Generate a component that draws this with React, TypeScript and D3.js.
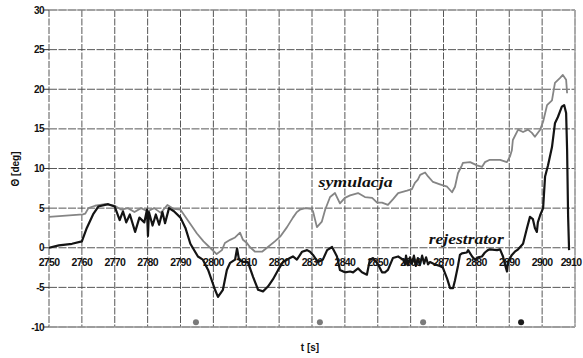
import React from "react";
import * as d3 from "d3";

const xTicks = [2750, 2760, 2770, 2780, 2790, 2800, 2810, 2820, 2830, 2840, 2850, 2860, 2870, 2880, 2890, 2900, 2910];
const yTicks = [-10, -5, 0, 5, 10, 15, 20, 25, 30];

// symulacja (simulation) : [t, theta]
const simT = [2750, 2760.3, 2761, 2762, 2764, 2767, 2770, 2772, 2774, 2776, 2778, 2780, 2782, 2784, 2786, 2788, 2790, 2791, 2793, 2795, 2797, 2799, 2801, 2802.6, 2803.5, 2805.1, 2806.6, 2808.1, 2809, 2810.2, 2811.1, 2812.7, 2814.8, 2816.6, 2818.7, 2820.3, 2822.4, 2824.2, 2825.4, 2826.3, 2828, 2829.8, 2830.3, 2831.5, 2833, 2834, 2835.5, 2837, 2838.5, 2840, 2841.6, 2844, 2846.1, 2848.3, 2849.8, 2851.3, 2853.1, 2854.6, 2856.2, 2858.9, 2860.4, 2861.3, 2862.2, 2862.9, 2864.4, 2865.3, 2866.8, 2868.9, 2871.1, 2872.6, 2873.5, 2874.4, 2875.6, 2875.9, 2878.1, 2880.2, 2881.7, 2882.6, 2884.1, 2887.2, 2889.3, 2890.2, 2890.8, 2891.1, 2892.7, 2894.2, 2895.7, 2896.9, 2897.8, 2899.4, 2900.3, 2901.5, 2903.0, 2903.9, 2905.4, 2906.3, 2907.3, 2907.6];
const simV = [3.9, 4.2, 4.3, 5.0, 5.3, 5.5, 5.3, 4.8, 5.0, 4.5, 5.0, 4.6, 5.0, 4.4, 5.4, 4.9, 4.8, 4.2, 3.0, 1.8, 0.8, 0.0, -0.8, -0.3, 0.6, 1.0, 1.3, 1.9, 1.0, 0.6, 0.1, -0.5, -0.5, 0.1, 0.8, 1.4, 2.6, 3.8, 4.5, 4.8, 5.0, 4.9, 4.6, 2.6, 3.3, 4.8, 6.4, 6.9, 5.6, 6.3, 6.6, 6.9, 6.4, 6.3, 5.7, 5.7, 5.4, 6.1, 6.9, 7.2, 7.4, 8.2, 8.6, 9.2, 9.5, 9.0, 8.3, 8.0, 7.7, 7.0, 7.7, 9.4, 10.4, 10.7, 10.8, 10.4, 10.2, 10.8, 11.1, 11.1, 10.8, 11.5, 12.3, 13.6, 14.9, 14.6, 14.9, 14.5, 14.0, 14.9, 15.9, 18.0, 18.6, 20.8, 21.4, 21.8, 21.2, 19.5];

// rejestrator (recorder) : [t, theta]
const recT = [2750, 2753, 2757, 2760, 2761.5, 2763.4, 2765, 2768, 2770, 2771.5, 2772.5, 2773.5, 2774.6, 2776.2, 2777.5, 2779, 2779.8, 2780.1, 2780.4, 2781.5, 2782.5, 2783.5, 2784.5, 2785.3, 2786.5, 2788, 2790, 2791.5, 2793, 2795.3, 2796.8, 2798.4, 2800.5, 2801.4, 2802.9, 2804.1, 2805.1, 2806.6, 2807.2, 2807.8, 2809, 2810.5, 2812.1, 2813.6, 2815.1, 2816.6, 2818.1, 2819.7, 2821.2, 2823.3, 2824.2, 2825.4, 2827.0, 2828.5, 2829.4, 2830.3, 2831.8, 2833.3, 2834.6, 2836.1, 2837.6, 2838.5, 2840.0, 2841.6, 2842.5, 2844.0, 2845.2, 2846.7, 2847.6, 2848.6, 2850.1, 2851.3, 2852.2, 2853.1, 2854.6, 2856.2, 2857.7, 2858.3, 2858.6, 2859.2, 2859.8, 2860.4, 2861.0, 2861.6, 2862.2, 2862.8, 2863.5, 2864.1, 2864.7, 2865.3, 2865.9, 2867.4, 2868.9, 2869.8, 2871.1, 2872.0, 2872.9, 2873.5, 2874.4, 2875.0, 2875.6, 2877.1, 2877.5, 2878.7, 2879.6, 2880.5, 2881.7, 2882.6, 2883.5, 2884.1, 2886.3, 2887.2, 2888.1, 2888.7, 2889.3, 2889.6, 2890.8, 2891.7, 2892.7, 2894.2, 2895.4, 2896.3, 2897.2, 2897.8, 2898.4, 2898.7, 2899.4, 2900.3, 2900.9, 2901.8, 2903.0, 2903.9, 2904.8, 2906.0, 2906.7, 2907.3, 2907.6, 2907.9, 2908.2];
const recV = [0.0, 0.3, 0.5, 0.8, 2.5, 4.2, 5.2, 5.5, 5.2, 3.5, 4.6, 3.2, 4.2, 2.0, 3.8, 3.2, 4.8, 1.5, 4.5, 2.8, 4.2, 2.9, 4.5, 3.1, 5.0, 4.6, 3.8, 2.5, 0.5, -1.1, -1.5, -2.8, -5.3, -6.2, -5.3, -2.8, -1.9, -1.5, -0.1, -1.5, -1.8, -1.8, -3.7, -5.3, -5.5, -4.9, -4.0, -2.8, -1.8, -1.3, -1.1, -1.5, -0.5, -0.3, -0.5, -0.9, -1.8, -1.5, -0.3, 0.1, -1.1, -2.8, -3.1, -3.0, -3.1, -2.6, -3.1, -3.4, -1.5, -1.3, -2.1, -3.1, -3.1, -2.8, -1.3, -1.1, -1.5, -2.1, -1.0, -2.2, -1.2, -2.0, -1.0, -2.3, -1.3, -2.2, -1.0, -2.0, -1.2, -2.1, -1.8, -2.1, -2.3, -2.5, -3.9, -5.1, -5.1, -4.1, -2.3, -0.9, -0.7, -0.6, -0.3, -1.1, -1.5, -1.2, -1.1, -0.6, -0.3, -0.2, -0.3, -0.2, -1.1, -2.1, -3.0, -1.8, -0.9, -0.5, -0.2, 0.5, 2.5, 3.9, 3.6, 2.5, 2.0, 3.2, 4.1, 5.0, 9.0, 10.4, 12.7, 15.7, 16.5, 17.8, 18.0, 17.0, 12.3, 4.0, -0.3];

// event markers at the bottom
const markT = [2794.7, 2832.4, 2863.8, 2893.6];
const markV = [-9.4, -9.4, -9.4, -9.4];
const markC = ["#7a7a7a", "#7a7a7a", "#7a7a7a", "#1a1a1a"];

export default function App() {
  const W = 583, H = 358;
  const x = d3.scaleLinear().domain([2750, 2910]).range([49, 575]);
  const y = d3.scaleLinear().domain([-10, 30]).range([327, 10]);
  const mk = (ts: number[], vs: number[]) =>
    d3.line<[number, number]>().x(d => x(d[0])).y(d => y(d[1]))(ts.map((t, i) => [t, vs[i]] as [number, number])) || "";
  const simPath = mk(simT, simV);
  const recPath = mk(recT, recV);
  const font = "'Liberation Sans', Arial, sans-serif";
  const serif = "'Liberation Serif', 'Times New Roman', serif";
  const lastTick = xTicks[xTicks.length - 1];
  return (
    <svg width={W} height={H} style={{ position: "absolute", left: 0, top: 0, background: "#fff" }}>
      <rect x={0} y={0} width={W} height={H} fill="#fff" />
      {/* grid */}
      {xTicks.map(t => (
        <line key={"vx" + t} x1={x(t)} x2={x(t)} y1={y(30)} y2={y(-10)} stroke="#444" strokeWidth={0.9} strokeDasharray="7,1.5" />
      ))}
      {yTicks.map(v => (
        <line key={"hy" + v} x1={x(2750)} x2={x(2910)} y1={y(v)} y2={y(v)} stroke="#444" strokeWidth={0.9} strokeDasharray="8,1.5" />
      ))}
      <line x1={x(2750)} x2={x(2910)} y1={y(30)} y2={y(30)} stroke="#999" strokeWidth={1} />
      <line x1={x(2750)} x2={x(2910)} y1={y(-10)} y2={y(-10)} stroke="#999" strokeWidth={1.5} />
      <line x1={x(2910)} x2={x(2910)} y1={y(30)} y2={y(-10)} stroke="#aaa" strokeWidth={1.5} />
      {/* y ticks */}
      {yTicks.map(v => (
        <g key={"yt" + v}>
          <line x1={x(2750) - 5} x2={x(2750)} y1={y(v)} y2={y(v)} stroke="#333" strokeWidth={1} />
          <text x={x(2750) - 5} y={y(v) + 3.5} textAnchor="end" fontFamily={font} fontWeight="bold" fontSize={10} fill="#111" letterSpacing={-0.6}>{v}</text>
        </g>
      ))}
      {/* x tick labels along zero line */}
      {xTicks.map(t => (
        <text key={"xt" + t} x={t === lastTick ? x(t) - 4 : x(t)} y={y(0) + 18} textAnchor="middle" fontFamily={font} fontWeight="bold" fontSize={10.5} fill="#111" letterSpacing={-0.7}>{t}</text>
      ))}
      {/* series */}
      <path d={simPath} fill="none" stroke="#858585" strokeWidth={1.8} strokeLinejoin="round" />
      <path d={recPath} fill="none" stroke="#141414" strokeWidth={2.2} strokeLinejoin="round" />
      {/* markers */}
      {markT.map((t, i) => (
        <circle key={"m" + i} cx={x(t)} cy={y(markV[i])} r={3} fill={markC[i]} />
      ))}
      {/* annotations */}
      <text x={x(2832)} y={y(6.8) - 7} fontFamily={serif} fontStyle="italic" fontWeight="bold" fontSize={15} fill="#111" textLength={74} lengthAdjust="spacingAndGlyphs">symulacja</text>
      <text x={x(2865.5)} y={y(0) - 4} fontFamily={serif} fontStyle="italic" fontWeight="bold" fontSize={15} fill="#111" textLength={75} lengthAdjust="spacingAndGlyphs">rejestrator</text>
      {/* axis titles */}
      <text transform="translate(19, 169) rotate(-90)" textAnchor="middle" fontFamily={font} fontWeight="bold" fontSize={10} fill="#111">Θ [deg]</text>
      <text x={310} y={351} textAnchor="middle" fontFamily={font} fontWeight="bold" fontSize={10} fill="#111">t [s]</text>
    </svg>
  );
}
